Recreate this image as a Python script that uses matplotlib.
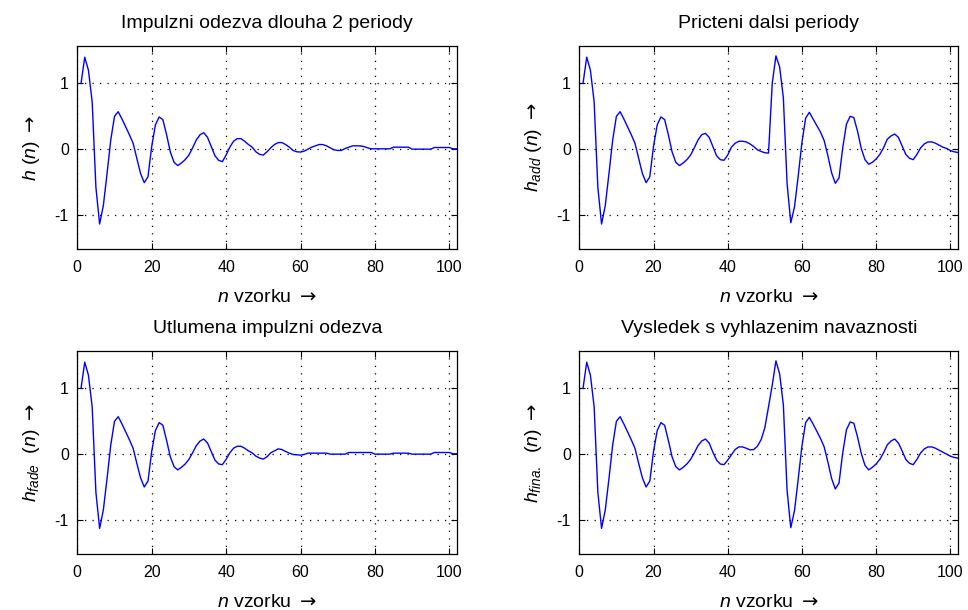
import matplotlib
matplotlib.use("Agg")
import matplotlib.pyplot as plt
import numpy as np

plt.rcParams['font.family'] = ['Liberation Sans', 'DejaVu Sans']
plt.rcParams['mathtext.fontset'] = 'custom'
plt.rcParams['mathtext.rm'] = 'Liberation Sans'
plt.rcParams['mathtext.it'] = 'Liberation Sans:italic'
plt.rcParams['mathtext.sf'] = 'DejaVu Sans'
plt.rcParams['axes.unicode_minus'] = False

# sample index (MATLAB style 1..N)
n = np.arange(1, 103)

h = [1.00, 1.40, 1.20, 0.72, -0.58, -1.14, -0.86, -0.37, 0.14, 0.50,
     0.57, 0.46, 0.34, 0.22, 0.09, -0.14, -0.37, -0.51, -0.42, 0.04,
     0.37, 0.49, 0.45, 0.22, -0.04, -0.20, -0.25, -0.21, -0.16, -0.09,
     0.02, 0.14, 0.22, 0.25, 0.18, 0.04, -0.10, -0.17, -0.19, -0.09,
     0.03, 0.12, 0.16, 0.16, 0.12, 0.07, 0.03, -0.04, -0.08, -0.09,
     -0.04, 0.02, 0.07, 0.10, 0.10, 0.07, 0.03, -0.02, -0.04, -0.045,
     -0.03, 0.00, 0.03, 0.05, 0.07, 0.07, 0.05, 0.02, -0.01, -0.02,
     -0.02, 0.01, 0.03, 0.05, 0.05, 0.05, 0.04, 0.02, 0.005, 0.005,
     0.005, 0.005, 0.005, 0.005, 0.03, 0.03, 0.03, 0.03, 0.03, 0.0,
     0.0, 0.0, 0.0, 0.0, 0.0, 0.025, 0.025, 0.025, 0.025, 0.025,
     0.005, 0.005]

h_add = [1.00, 1.40, 1.20, 0.72, -0.58, -1.14, -0.86, -0.37, 0.14, 0.50,
         0.57, 0.46, 0.34, 0.22, 0.09, -0.14, -0.37, -0.51, -0.42, 0.04,
         0.37, 0.49, 0.45, 0.22, -0.04, -0.20, -0.25, -0.21, -0.16, -0.09,
         0.02, 0.14, 0.22, 0.24, 0.18, 0.04, -0.10, -0.16, -0.17, -0.09,
         0.03, 0.09, 0.12, 0.12, 0.11, 0.08, 0.04, -0.01, -0.035, -0.055,
         -0.06, 1.00, 1.42, 1.25, 0.78, -0.52, -1.12, -0.88, -0.41, 0.10,
         0.47, 0.56, 0.46, 0.36, 0.26, 0.13, -0.10, -0.36, -0.52, -0.44,
         0.02, 0.38, 0.50, 0.48, 0.27, 0.01, -0.16, -0.23, -0.20, -0.15,
         -0.08, 0.02, 0.15, 0.20, 0.23, 0.18, 0.05, -0.08, -0.14, -0.16,
         -0.08, 0.02, 0.08, 0.11, 0.11, 0.09, 0.06, 0.03, 0.01, -0.02,
         -0.04, -0.05]

h_fade = [1.00, 1.40, 1.20, 0.72, -0.58, -1.13, -0.85, -0.37, 0.14, 0.50,
          0.57, 0.46, 0.34, 0.22, 0.09, -0.14, -0.36, -0.50, -0.41, 0.04,
          0.36, 0.48, 0.44, 0.21, -0.04, -0.19, -0.24, -0.20, -0.15, -0.08,
          0.02, 0.13, 0.20, 0.23, 0.17, 0.04, -0.09, -0.15, -0.16, -0.08,
          0.02, 0.09, 0.12, 0.12, 0.09, 0.05, 0.02, -0.03, -0.06, -0.075,
          -0.04, 0.02, 0.05, 0.08, 0.07, 0.04, 0.015, -0.005, -0.01, -0.015,
          -0.005, 0.015, 0.015, 0.015, 0.015, 0.015, 0.015, 0.0, 0.0, 0.0,
          0.0, 0.0, 0.025, 0.025, 0.025, 0.025, 0.025, 0.025, 0.025, 0.0,
          0.0, 0.0, 0.0, 0.0, 0.015, 0.015, 0.015, 0.015, 0.015, 0.0,
          0.0, 0.0, 0.0, 0.0, 0.0, 0.025, 0.025, 0.025, 0.025, 0.025,
          0.005, 0.005]

h_fina = [1.00, 1.40, 1.20, 0.72, -0.58, -1.13, -0.85, -0.37, 0.14, 0.50,
          0.57, 0.46, 0.34, 0.22, 0.09, -0.14, -0.36, -0.50, -0.41, 0.04,
          0.36, 0.48, 0.44, 0.21, -0.04, -0.19, -0.24, -0.20, -0.15, -0.08,
          0.02, 0.13, 0.20, 0.23, 0.17, 0.03, -0.09, -0.15, -0.16, -0.09,
          -0.01, 0.07, 0.11, 0.11, 0.09, 0.065, 0.07, 0.12, 0.22, 0.40,
          0.72, 1.05, 1.42, 1.22, 0.75, -0.55, -1.12, -0.86, -0.38, 0.12,
          0.48, 0.56, 0.46, 0.35, 0.24, 0.11, -0.12, -0.37, -0.53, -0.44,
          0.02, 0.37, 0.49, 0.47, 0.26, 0.01, -0.17, -0.24, -0.20, -0.15,
          -0.08, 0.02, 0.14, 0.20, 0.23, 0.17, 0.05, -0.08, -0.14, -0.16,
          -0.08, 0.02, 0.08, 0.11, 0.11, 0.09, 0.06, 0.03, 0.0, -0.03,
          -0.05, -0.06]

titles = ["Impulzni odezva dlouha 2 periody", "Pricteni dalsi periody",
          "Utlumena impulzni odezva", "Vysledek s vyhlazenim navaznosti"]
arrow = r"$\mathsf{\rightarrow}$"
ylabels = ["$h$ ($n$) " + arrow, "$h_{add}$ ($n$) " + arrow,
           "$h_{fade}$  ($n$) " + arrow, "$h_{fina.}$  ($n$) " + arrow]
xlabel = "$n$ vzorku " + arrow
xticks = [0, 20, 40, 60, 80, 100]
yticks = [-1, 0, 1]
series = [h, h_add, h_fade, h_fina]

fig = plt.figure(figsize=(9.68, 6.10), dpi=100)
fig.patch.set_facecolor('white')
W, H = 968.0, 610.0
boxes = [(77.3, 46, 457.3, 249), (579.3, 46, 958.3, 249),
         (77.3, 351, 457.3, 554), (579.3, 351, 958.3, 554)]

fs_tick = 11.5
fs_text = 14
for i in range(4):
    l, t, r, b = boxes[i]
    ax = fig.add_axes([l / W, 1 - b / H, (r - l) / W, (b - t) / H])
    ax.plot(n, series[i], color=(0, 0, 1), linewidth=1.0)
    ax.set_xlim(0, 102.15)
    ax.set_ylim(-1.52, 1.57)
    ax.set_xticks(xticks)
    ax.set_yticks(yticks)
    ax.grid(True, linestyle=(0, (1, 5)), color='black', linewidth=0.9)
    ax.tick_params(direction='in', top=True, right=True, length=4,
                   labelsize=fs_tick, width=0.8)
    ax.tick_params(axis='x', pad=8)
    ax.tick_params(axis='y', pad=6)
    for s in ax.spines.values():
        s.set_linewidth(0.9)
    ax.set_title(titles[i], fontsize=fs_text, pad=13)
    ax.set_xlabel(xlabel, fontsize=fs_text, labelpad=10)
    ax.set_ylabel(ylabels[i], fontsize=fs_text, labelpad=9)

fig.savefig("out.png", dpi=100, facecolor='white')
